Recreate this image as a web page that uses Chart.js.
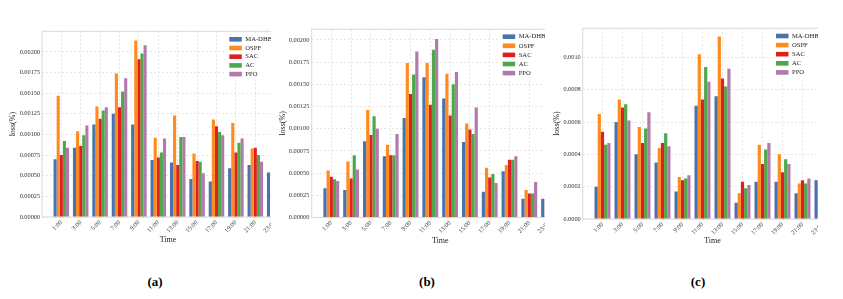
<!DOCTYPE html>
<html><head><meta charset="utf-8">
<script src="https://cdn.jsdelivr.net/npm/chart.js@4.4.0/dist/chart.umd.min.js"></script>
<style>
html,body{margin:0;padding:0;background:#fff;width:843px;height:299px;overflow:hidden;position:relative;}
.clip{position:absolute;top:0;height:252px;overflow:hidden;}
.clip canvas{position:absolute;left:0;top:0;}
.cap{position:absolute;top:274px;line-height:16px;font:bold 13px "Liberation Serif",serif;color:#000;transform:translateX(-50%);white-space:nowrap;}
</style></head><body>
<div class="clip" style="left:0px;width:271px"><canvas id="ca" width="300" height="252"></canvas></div>
<div class="clip" style="left:275px;width:270px"><canvas id="cb" width="300" height="252"></canvas></div>
<div class="clip" style="left:550px;width:268px"><canvas id="cc" width="300" height="252"></canvas></div>
<div class="cap" style="left:155px">(a)</div>
<div class="cap" style="left:427px">(b)</div>
<div class="cap" style="left:698px">(c)</div>
<script>
// ---- data ----
const timeLabels = ['1:00','3:00','5:00','7:00','9:00','11:00','13:00','15:00','17:00','19:00','21:00','23:00'];
const seriesNames = ['MA-DHB','OSPF','SAC','AC','PPO'];
const seriesColors = ['#4a72ad','#ff8b1f','#e0201e','#4ea84b','#b07bab'];

const aMADHB = [0.00070,0.00084,0.00112,0.00125,0.00112,0.00069,0.00066,0.00046,0.00043,0.00059,0.00063,0.00054];
const aOSPF  = [0.00147,0.00104,0.00134,0.00174,0.00214,0.00096,0.00123,0.00077,0.00118,0.00114,0.00083];
const aSAC   = [0.00075,0.00086,0.00119,0.00133,0.00191,0.00072,0.00063,0.00068,0.00110,0.00078,0.00084];
const aAC    = [0.00092,0.00099,0.00129,0.00152,0.00198,0.00078,0.00097,0.00067,0.00103,0.00090,0.00075];
const aPPO   = [0.00084,0.00111,0.00133,0.00168,0.00208,0.00095,0.00097,0.00053,0.00099,0.00095,0.00067];

const bMADHB = [0.00033,0.00031,0.00086,0.00069,0.00112,0.00158,0.00134,0.00085,0.00029,0.00052,0.00021,0.00021];
const bOSPF  = [0.00053,0.00063,0.00121,0.00082,0.00174,0.00174,0.00162,0.00106,0.00056,0.00059,0.00031];
const bSAC   = [0.00046,0.00044,0.00093,0.00070,0.00139,0.00127,0.00115,0.00099,0.00045,0.00065,0.00027];
const bAC    = [0.00043,0.00070,0.00114,0.00070,0.00161,0.00189,0.00150,0.00094,0.00049,0.00065,0.00027];
const bPPO   = [0.00041,0.00054,0.00100,0.00094,0.00187,0.00201,0.00164,0.00124,0.00039,0.00069,0.00040];

const cMADHB = [0.00020,0.00060,0.00040,0.00035,0.00017,0.00070,0.00076,0.00010,0.00023,0.00023,0.00016,0.00024];
const cOSPF  = [0.00065,0.00074,0.00057,0.00044,0.00026,0.00102,0.00113,0.00016,0.00046,0.00040,0.00022];
const cSAC   = [0.00054,0.00069,0.00047,0.00047,0.00024,0.00074,0.00087,0.00023,0.00034,0.00029,0.00024];
const cAC    = [0.00046,0.00071,0.00056,0.00053,0.00025,0.00094,0.00082,0.00019,0.00043,0.00037,0.00022];
const cPPO   = [0.00047,0.00061,0.00066,0.00045,0.00027,0.00085,0.00093,0.00021,0.00047,0.00034,0.00025];

const aTicks = [0,0.00025,0.0005,0.00075,0.001,0.00125,0.0015,0.00175,0.002];
const bTicks = [0,0.00025,0.0005,0.00075,0.001,0.00125,0.0015,0.00175,0.002];
const cTicks = [0,0.0002,0.0004,0.0006,0.0008,0.001];

// ---- drawing ----
const FONT = '"Liberation Serif", "Times New Roman", serif';

const frameLegend = {
  id: 'frameLegend',
  beforeDatasetsDraw(chart) {
    const {ctx, chartArea: a} = chart;
    ctx.save();
    ctx.strokeStyle = '#d9d9d9'; ctx.lineWidth = 1;
    ctx.strokeRect(a.left, a.top, a.right - a.left, a.bottom - a.top);
    ctx.restore();
  },
  afterDraw(chart, args, opts) {
    const {ctx, chartArea: a} = chart;
    const x0 = a.right - opts.dx, y0 = a.top + opts.dy;
    ctx.save();
    ctx.fillStyle = 'rgba(255,255,255,0.8)';
    ctx.fillRect(x0 - 3, y0 - 6, opts.dx - 4, opts.gap * 4 + 12);
    ctx.font = '6.6px ' + FONT;
    ctx.textBaseline = 'middle';
    chart.data.datasets.forEach((ds, i) => {
      const y = y0 + i * opts.gap;
      ctx.fillStyle = ds.backgroundColor;
      ctx.fillRect(x0, y - 2.3, 12.5, 4.6);
      ctx.fillStyle = '#222';
      ctx.fillText(ds.label, x0 + 16, y);
    });
    ctx.restore();
  }
};

function makeChart(id, series, yTicks, L) {
  const datasets = series.map((vals, k) => ({
    label: seriesNames[k],
    data: vals.map((v, i) => ({x: i, y: v})),
    backgroundColor: seriesColors[k],
    borderWidth: 0
  }));
  return new Chart(document.getElementById(id), {
    type: 'bar',
    data: {datasets},
    plugins: [frameLegend],
    options: {
      responsive: false, animation: false, devicePixelRatio: 1,
      layout: {padding: {left: 0, top: L.top, right: L.padRight, bottom: 0}},
      datasets: {bar: {categoryPercentage: 0.8, barPercentage: 1.0}},
      plugins: {
        legend: {display: false}, tooltip: {enabled: false},
        frameLegend: {dx: L.legDx, dy: L.legDy, gap: L.legGap}
      },
      scales: {
        x: {
          type: 'linear', min: -0.99, max: 11.99, offset: false,
          afterBuildTicks: ax => { ax.ticks = timeLabels.map((_, i) => ({value: i})); },
          afterFit: ax => { ax.height = L.xH; },
          ticks: {autoSkip: false, minRotation: 45, maxRotation: 45, padding: 2,
                  color: '#333', font: {family: FONT, size: 6.3},
                  callback: v => timeLabels[v]},
          grid: {color: '#e6e6e6', drawTicks: false, offset: false},
          border: {display: false, dash: [2, 2]},
          title: {display: true, text: 'Time', color: '#222', font: {family: FONT, size: 8},
                  padding: {top: 0, bottom: L.xTitlePad}}
        },
        y: {
          min: 0, max: L.yMax,
          afterBuildTicks: ax => { ax.ticks = yTicks.map(v => ({value: v})); },
          afterFit: ax => { ax.width = L.yW; },
          ticks: {padding: L.yTickPad, color: '#333', font: {family: FONT, size: 6.3},
                  callback: v => v.toFixed(L.dec)},
          grid: {color: '#e6e6e6', drawTicks: false},
          border: {display: false, dash: [2, 2]},
          title: {display: true, text: 'loss(%)', color: '#222', font: {family: FONT, size: 8},
                  padding: {top: L.yTitlePad, bottom: 0}}
        }
      }
    }
  });
}

makeChart('ca', [aMADHB, aOSPF, aSAC, aAC, aPPO], aTicks,
  {top: 31.3, padRight: 6.1, xH: 35, xTitlePad: 7.2, yW: 42.1, yTickPad: 2, yTitlePad: 7.7,
   yMax: 0.00225, dec: 5, legDx: 64.6, legDy: 8, legGap: 8.7});
makeChart('cb', [bMADHB, bOSPF, bSAC, bAC, bPPO], bTicks,
  {top: 29.3, padRight: 6.3, xH: 34.5, xTitlePad: 6.5, yW: 36.7, yTickPad: 2.4, yTitlePad: 3.2,
   yMax: 0.00212, dec: 5, legDx: 66, legDy: 7.4, legGap: 9.1});
makeChart('cc', [cMADHB, cOSPF, cSAC, cAC, cPPO], cTicks,
  {top: 28.3, padRight: 7.7, xH: 33, xTitlePad: 6.2, yW: 32.7, yTickPad: 2, yTitlePad: 2.2,
   yMax: 0.00118, dec: 4, legDx: 66.3, legDy: 7.7, legGap: 9.1});
</script>
</body></html>
